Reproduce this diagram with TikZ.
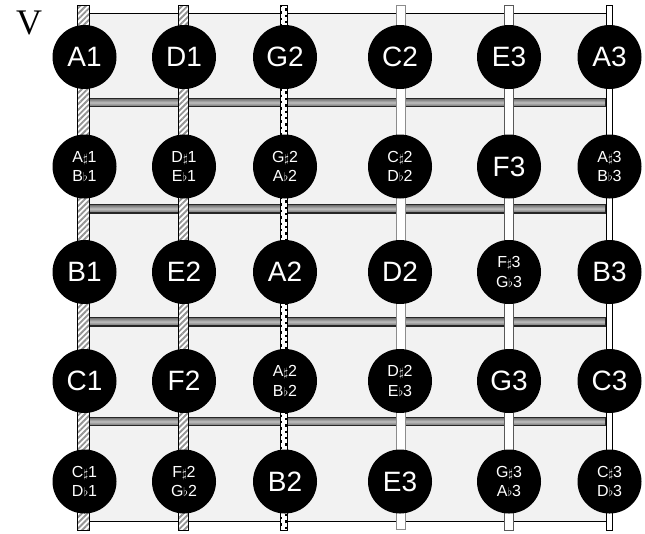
\documentclass[tikz,border=0pt]{standalone}
\usepackage{fontspec}
\usepackage{graphicx}
\setmainfont{Liberation Serif}
\newfontfamily\labfont{Liberation Sans}
\usetikzlibrary{patterns.meta}
\newcommand{\shp}{\scalebox{0.75}{$\sharp$}}
\newcommand{\flt}{\scalebox{0.75}{$\flat$}}
\tikzset{
 board/.style={fill=gray!10, draw=black, line width=0.6pt},
 fretbar/.style={draw=black!85, line width=0.8pt, top color=black!60, bottom color=black!60, middle color=black!25},
 woundstr/.style={draw=black, line width=0.6pt, preaction={fill=white}, pattern={Lines[angle=45,distance=3pt,line width=1.4pt]}, pattern color=gray!85},
 plainstr/.style={draw=black, line width=0.6pt, fill=white},
 note/.style={circle, fill=black, minimum size=48pt, inner sep=0pt, text=white, font=\labfont\fontsize{21}{21}\selectfont},
 snote/.style={note, align=center, font=\labfont\fontsize{12}{14.5}\selectfont},
}
\begin{document}
\begin{tikzpicture}[x=0.75pt,y=-0.75pt]
\useasboundingbox (0,0) rectangle (645,533);
% board
\draw[board] (84,13.3) rectangle (606,521.7);
% frets
\foreach \fy in {102.5,208.7,321.7,421.5}
  \draw[fretbar] (84,\fy-4.3) rectangle (606,\fy+4.3);
% strings
\draw[woundstr] (77.5,5) rectangle (89.5,530);
\draw[woundstr] (178.5,5) rectangle (188.5,530);
\draw[plainstr, line width=0.5pt] (280,5) rectangle (287,530);
\draw[black, line width=1.1pt, dash pattern=on 1.8pt off 3pt] (281.2,5) -- (281.2,530);
\draw[black, line width=1.1pt, dash pattern=on 1.8pt off 3pt, dash phase=2.4pt] (285.8,5) -- (285.8,530);
\draw[fill=white, draw=gray!90, line width=1.2pt] (396.5,5.5) rectangle (405.5,529.5);
\draw[fill=white, draw=black!65, line width=0.6pt] (504,5) rectangle (513,530);
\draw[plainstr] (606,5) rectangle (612,530);
% label V
\node (v) at (29,23) {\fontsize{27}{27}\selectfont V};
% row 1
\node[note] (a1) at (84.5,57) {A1};
\node[note] (d1) at (184,57) {D1};
\node[note] (g2) at (285,57) {G2};
\node[note] (c2) at (400,57) {C2};
\node[note] (e3a) at (509,57) {E3};
\node[note] (a3) at (609.5,57) {A3};
% row 2
\node[snote] (as1) at (84.5,166.5) {A\shp1\\B\flt1};
\node[snote] (ds1) at (184,166.5) {D\shp1\\E\flt1};
\node[snote] (gs2) at (285,166.5) {G\shp2\\A\flt2};
\node[snote] (cs2) at (400,166.5) {C\shp2\\D\flt2};
\node[note] (f3) at (509,166.5) {F3};
\node[snote] (as3) at (609.5,166.5) {A\shp3\\B\flt3};
% row 3
\node[note] (b1) at (84.5,272) {B1};
\node[note] (e2) at (184,272) {E2};
\node[note] (a2) at (285,272) {A2};
\node[note] (d2) at (400,272) {D2};
\node[snote] (fs3) at (509,272) {F\shp3\\G\flt3};
\node[note] (b3) at (609.5,272) {B3};
% row 4
\node[note] (c1) at (84.5,381) {C1};
\node[note] (f2) at (184,381) {F2};
\node[snote] (as2) at (285,381) {A\shp2\\B\flt2};
\node[snote] (ds2) at (400,381) {D\shp2\\E\flt3};
\node[note] (g3) at (509,381) {G3};
\node[note] (c3) at (609.5,381) {C3};
% row 5
\node[snote] (cs1) at (84.5,481.5) {C\shp1\\D\flt1};
\node[snote] (fs2) at (184,481.5) {F\shp2\\G\flt2};
\node[note] (b2) at (285,481.5) {B2};
\node[note] (e3b) at (400,481.5) {E3};
\node[snote] (gs3) at (509,481.5) {G\shp3\\A\flt3};
\node[snote] (cs3) at (609.5,481.5) {C\shp3\\D\flt3};
\end{tikzpicture}
\end{document}
